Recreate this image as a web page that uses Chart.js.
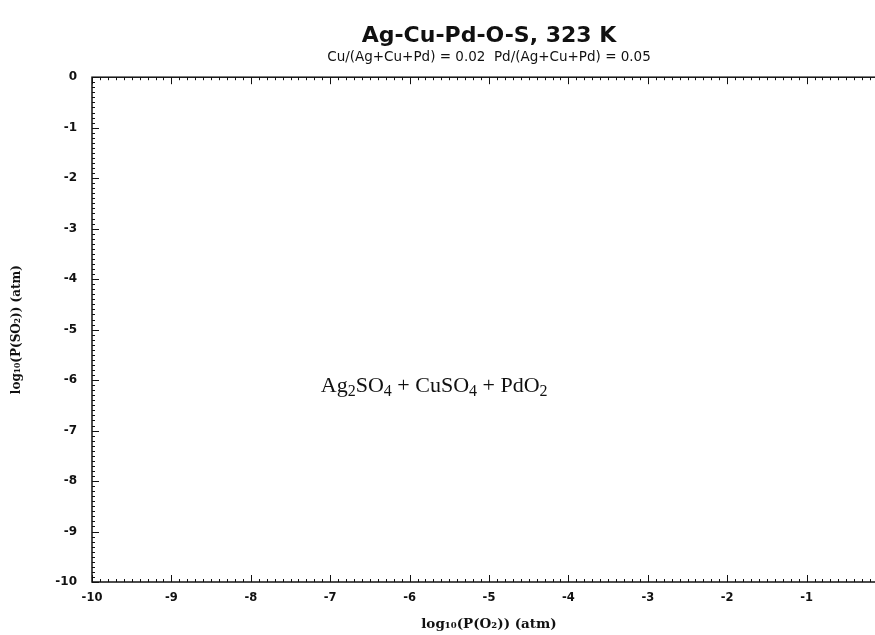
<!DOCTYPE html>
<html>
<head>
<meta charset="utf-8">
<script src="https://cdn.jsdelivr.net/npm/chart.js@4/dist/chart.umd.min.js"></script>
<style>
  html, body { margin: 0; padding: 0; background: #fff; overflow: hidden; }
  #wrap { width: 875px; height: 635px; overflow: hidden; }
</style>
</head>
<body>
<div id="wrap"><canvas id="phaseChart" width="895" height="635"></canvas></div>
<script>
// eksen aralıkları
const xRange = [-10, 0];
const yRange = [-10, 0];
const majorStep = 1;
const minorStep = 0.1;

// bölge etiketleri (faz alanı) ve konumları; harften sonraki rakamlar alt simge
const regionLabels = ['Ag2SO4 + CuSO4 + PdO2'];
const regionX = [-5.69];
const regionY = [-6.1];

const titleText = 'Ag-Cu-Pd-O-S, 323 K';
const subtitleText = 'Cu/(Ag+Cu+Pd) = 0.02  Pd/(Ag+Cu+Pd) = 0.05';
const xTitle = 'log₁₀(P(O₂)) (atm)';
const yTitle = 'log₁₀(P(SO₂)) (atm)';

// çerçeve ve içe dönük tikler
const frameTicks = {
  id: 'frameTicks',
  afterDraw(chart) {
    const ctx = chart.ctx;
    const a = chart.chartArea;
    const xs = chart.scales.x, ys = chart.scales.y;
    ctx.save();
    ctx.strokeStyle = '#111';
    ctx.lineWidth = 1.5;
    ctx.strokeRect(a.left, a.top, a.right - a.left, a.bottom - a.top);
    ctx.lineWidth = 1;
    ctx.beginPath();
    for (let i = 0; i <= Math.round((xRange[1] - xRange[0]) / minorStep); i++) {
      const v = xRange[0] + i * minorStep;
      const major = Math.abs(v - Math.round(v)) < 1e-6;
      const len = major ? 7 : 3;
      const px = Math.round(xs.getPixelForValue(v)) + 0.5;
      ctx.moveTo(px, a.bottom); ctx.lineTo(px, a.bottom - len);
      ctx.moveTo(px, a.top); ctx.lineTo(px, a.top + len);
    }
    for (let i = 0; i <= Math.round((yRange[1] - yRange[0]) / minorStep); i++) {
      const v = yRange[0] + i * minorStep;
      const major = Math.abs(v - Math.round(v)) < 1e-6;
      const len = major ? 7 : 3;
      const py = Math.round(ys.getPixelForValue(v)) + 0.5;
      ctx.moveTo(a.left, py); ctx.lineTo(a.left + len, py);
      ctx.moveTo(a.right, py); ctx.lineTo(a.right - len, py);
    }
    ctx.stroke();
    ctx.restore();
  }
};

// formülü parçalara ayır: harf/işaret ile alt simge rakamlar
function splitFormula(s) {
  const parts = [];
  for (let i = 0; i < s.length; i++) {
    const ch = s[i];
    const sub = /[0-9]/.test(ch) && i > 0 && /[A-Za-z0-9]/.test(s[i - 1]);
    if (parts.length && parts[parts.length - 1].sub === sub) parts[parts.length - 1].t += ch;
    else parts.push({ t: ch, sub: sub });
  }
  return parts;
}

// faz bölgesi yazıları
const regionText = {
  id: 'regionText',
  afterDatasetsDraw(chart) {
    const ctx = chart.ctx;
    const meta = chart.getDatasetMeta(0);
    const mainFont = '22px "Liberation Serif", "Times New Roman", serif';
    const subFont = '16px "Liberation Serif", "Times New Roman", serif';
    ctx.save();
    ctx.fillStyle = '#111';
    ctx.textBaseline = 'alphabetic';
    ctx.textAlign = 'left';
    meta.data.forEach(function(pt, i) {
      const parts = splitFormula(regionLabels[i]);
      let w = 0;
      parts.forEach(function(p) {
        ctx.font = p.sub ? subFont : mainFont;
        p.w = ctx.measureText(p.t).width;
        w += p.w;
      });
      let x = pt.x - w / 2;
      const base = pt.y + 7;
      parts.forEach(function(p) {
        ctx.font = p.sub ? subFont : mainFont;
        ctx.fillText(p.t, x, p.sub ? base + 4 : base);
        x += p.w;
      });
    });
    ctx.restore();
  }
};

new Chart(document.getElementById('phaseChart'), {
  type: 'scatter',
  data: {
    datasets: [{
      data: regionX.map(function(x, i) { return { x: x, y: regionY[i] }; }),
      pointRadius: 0,
      pointHoverRadius: 0
    }]
  },
  options: {
    responsive: false,
    animation: false,
    layout: { padding: { left: 4, right: 2, top: 0, bottom: 2 } },
    plugins: {
      legend: { display: false },
      tooltip: { enabled: false },
      title: {
        display: true,
        fullSize: false,
        text: titleText,
        color: '#111',
        font: { family: '"DejaVu Sans", sans-serif', size: 22, weight: 'bold', lineHeight: 1.0 },
        padding: { top: 25, bottom: 0 }
      },
      subtitle: {
        display: true,
        fullSize: false,
        text: subtitleText,
        color: '#111',
        font: { family: '"DejaVu Sans", sans-serif', size: 13.5 },
        padding: { top: 2, bottom: 12 }
      }
    },
    scales: {
      x: {
        type: 'linear',
        min: xRange[0],
        max: xRange[1],
        border: { display: false },
        grid: { display: false, drawTicks: false },
        ticks: {
          stepSize: majorStep,
          padding: 9,
          color: '#111',
          font: { family: '"DejaVu Sans", sans-serif', size: 11.5, weight: 'bold' },
          maxRotation: 0,
          callback: function(v) { return v === 0 ? '' : v; }
        },
        title: {
          display: true,
          text: xTitle,
          color: '#111',
          font: { family: '"DejaVu Serif", serif', size: 13.5, weight: 'bold' },
          padding: { top: 7, bottom: 0 }
        },
        afterFit: function(s) { s.height = 51; }
      },
      y: {
        type: 'linear',
        min: yRange[0],
        max: yRange[1],
        border: { display: false },
        grid: { display: false, drawTicks: false },
        ticks: {
          stepSize: majorStep,
          padding: 15,
          color: '#111',
          font: { family: '"DejaVu Sans", sans-serif', size: 12, weight: 'bold' }
        },
        title: {
          display: true,
          text: yTitle,
          color: '#111',
          font: { family: '"DejaVu Serif", serif', size: 12, weight: 'bold' },
          padding: { top: 6, bottom: 24 }
        },
        afterFit: function(s) { s.width = 88; }
      }
    }
  },
  plugins: [frameTicks, regionText]
});
</script>
</body>
</html>
